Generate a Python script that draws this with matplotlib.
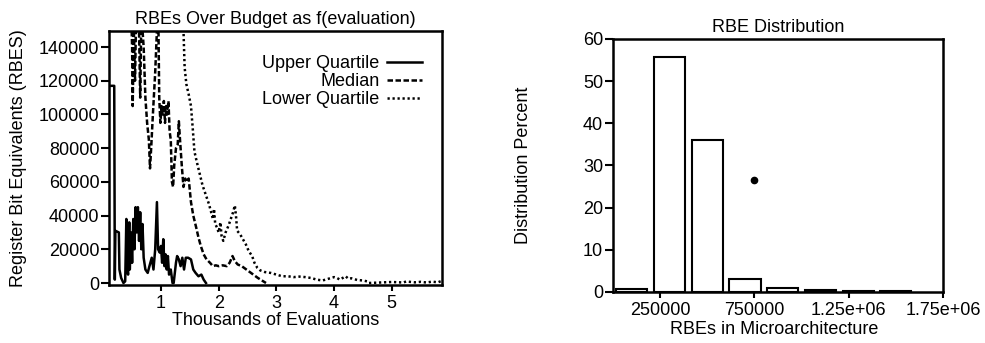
import matplotlib
matplotlib.use("Agg")
import matplotlib.pyplot as plt

plt.rcParams['font.family'] = ['Liberation Sans', 'DejaVu Sans']
plt.rcParams['font.size'] = 13

# ---------------- data: left panel (thousands of evaluations, RBEs) ----------------
upper_x = [0.14, 0.19, 0.20, 0.21, 0.27, 0.28, 0.31, 0.35, 0.38, 0.40, 0.41, 0.43, 0.45,
           0.46, 0.48, 0.50, 0.52, 0.54, 0.56, 0.58, 0.60, 0.62, 0.64, 0.66, 0.68, 0.70, 0.73,
           0.77, 0.80, 0.84, 0.87, 0.90, 0.93, 0.95, 0.98, 1.00, 1.02, 1.04, 1.06, 1.08, 1.10,
           1.12, 1.14, 1.17, 1.20, 1.22, 1.26, 1.28, 1.31, 1.34, 1.37, 1.40, 1.43, 1.47, 1.52,
           1.56, 1.60, 1.65, 1.70, 1.74, 1.78]
upper_y = [117000, 117000, 2000, 31000, 30000, 8000, 3000, 0, 1000, 38000, 10000, 5000, 36000,
           8000, 30000, 12000, 38000, 20000, 45000, 30000, 45000, 25000, 42000, 20000, 35000, 15000, 8000,
           6000, 10000, 15000, 8000, 20000, 48000, 20000, 18000, 22000, 12000, 26000, 10000, 17000, 8000,
           16000, 5000, 8000, 0, 0, 12000, 16000, 14000, 10000, 15000, 8000, 15000, 15000, 14000,
           8000, 6000, 4000, 5000, 2000, 0]

median_x = [0.45, 0.50, 0.51, 0.53, 0.55, 0.57, 0.62, 0.64, 0.66, 0.70, 0.73, 0.76, 0.79, 0.81,
            0.83, 0.86, 0.90, 0.93, 0.95, 0.97, 0.99, 1.01, 1.03, 1.05, 1.07, 1.09, 1.11, 1.13,
            1.15, 1.17, 1.19, 1.21, 1.23, 1.26, 1.29, 1.31, 1.33, 1.36, 1.39, 1.42, 1.45, 1.48,
            1.52, 1.56, 1.61, 1.65, 1.69, 1.74, 1.79, 1.85, 1.90, 1.95, 2.00, 2.07, 2.14, 2.19,
            2.24, 2.28, 2.33, 2.40, 2.50, 2.60, 2.68, 2.75, 2.82]
median_y = [200000, 140000, 105000, 150000, 120000, 160000, 150000, 110000, 160000, 140000, 110000, 95000, 85000, 68000,
            80000, 100000, 125000, 150000, 170000, 110000, 95000, 105000, 100000, 108000, 95000, 105000, 100000, 108000,
            90000, 85000, 60000, 57000, 70000, 80000, 82000, 96000, 85000, 70000, 57000, 62000, 60000, 62000,
            48000, 40000, 33000, 27000, 22000, 17000, 14000, 12000, 10000, 10500, 10000, 10500, 10000, 12000,
            16000, 13000, 11000, 10000, 7500, 5000, 3000, 1500, 0]

lower_x = [1.35, 1.39, 1.41, 1.44, 1.48, 1.52, 1.55, 1.58, 1.62, 1.67, 1.72, 1.78, 1.83, 1.87,
           1.90, 1.92, 1.94, 1.97, 2.00, 2.03, 2.05, 2.08, 2.12, 2.17, 2.21, 2.25, 2.28, 2.30,
           2.32, 2.37, 2.42, 2.47, 2.52, 2.58, 2.62, 2.67, 2.72, 2.80, 2.90, 3.00, 3.10, 3.20,
           3.30, 3.40, 3.50, 3.60, 3.70, 3.80, 3.90, 4.00, 4.05, 4.10, 4.15, 4.20, 4.25, 4.30,
           4.40, 4.50, 4.57, 4.60, 4.80, 5.00, 5.20, 5.25, 5.40, 5.50, 5.60, 5.70, 5.80, 5.86]
lower_y = [200000, 150000, 128000, 118000, 112000, 105000, 92000, 78000, 72000, 65000, 58000, 52000, 47000, 42000,
           38000, 44000, 35000, 33000, 30000, 36000, 28000, 25000, 30000, 34000, 38000, 42000, 46000, 40000,
           31000, 29000, 26000, 23000, 19000, 16000, 12000, 9000, 7500, 6500, 6000, 5000, 4000, 4000,
           3500, 3800, 3500, 3000, 2000, 1500, 2500, 3500, 3000, 2000, 3000, 4000, 2500, 2800,
           1800, 1500, 1000, 0, 300, 600, 300, 900, 400, 700, 300, 800, 400, 1200]

series_labels = ["Upper Quartile", "Median", "Lower Quartile"]

# ---------------- data: right panel (RBE distribution) ----------------
bin_centers = [100000, 300000, 500000, 700000, 900000, 1100000, 1300000, 1500000]
dist_percent = [0.8, 55.7, 36.0, 3.2, 0.9, 0.5, 0.2, 0.2]
stray_x = [750000]
stray_y = [26.5]
right_xticks = [250000, 750000, 1250000, 1750000]
right_xticklabels = ["250000", "750000", "1.25e+06", "1.75e+06"]

# ---------------- figure ----------------
fig = plt.figure(figsize=(9.85, 3.43), dpi=100)

ax1 = fig.add_axes([0.1107, 0.169, 0.338, 0.7405])
ax1.plot(upper_x, upper_y, color='black', lw=1.8, ls='-', label=series_labels[0])
ax1.plot(median_x, median_y, color='black', lw=1.8, ls=(0, (2.2, 1.0)), label=series_labels[1])
ax1.plot(lower_x, lower_y, color='black', lw=1.8, ls=(0, (0.9, 1.1)), label=series_labels[2])
ax1.set_xlim(0.1, 5.87)
ax1.set_ylim(-1200, 149500)
ax1.set_xticks([1, 2, 3, 4, 5])
ax1.set_yticks(range(0, 140001, 20000))
ax1.set_title("RBEs Over Budget as f(evaluation)", fontsize=13, pad=5)
ax1.set_xlabel("Thousands of Evaluations", fontsize=13)
ax1.xaxis.set_label_coords(0.5, -0.105)
ax1.set_ylabel("Register Bit Equivalents (RBES)", fontsize=13)
ax1.yaxis.set_label_coords(-0.245, 0.5)
leg = ax1.legend(loc='upper right', frameon=False, markerfirst=False, fontsize=13,
                 handlelength=1.95, handletextpad=0.4, labelspacing=0.05,
                 borderaxespad=0.0, borderpad=0.0, bbox_to_anchor=(0.94, 0.905))
for col in leg._legend_handle_box.get_children():
    col.align = 'right'

ax2 = fig.add_axes([0.6223, 0.1487, 0.335, 0.7376])
ax2.bar(bin_centers, dist_percent, width=165000, facecolor='white', edgecolor='black', lw=1.5)
ax2.plot(stray_x, stray_y, 'o', color='black', ms=4.5)
ax2.set_xlim(0, 1750000)
ax2.set_ylim(0, 60)
ax2.set_xticks(right_xticks)
ax2.set_xticklabels(right_xticklabels)
ax2.set_yticks(range(0, 61, 10))
ax2.set_title("RBE Distribution", fontsize=13, pad=5)
ax2.set_xlabel("RBEs in Microarchitecture", fontsize=13)
ax2.xaxis.set_label_coords(0.49, -0.115)
ax2.set_ylabel("Distribution Percent", fontsize=13)
ax2.yaxis.set_label_coords(-0.245, 0.5)

for ax in (ax1, ax2):
    for sp in ax.spines.values():
        sp.set_linewidth(1.8)
    ax.tick_params(axis='x', direction='out', length=4, width=1.5, labelsize=13, pad=3.5)
    ax.tick_params(axis='y', direction='out', length=6, width=1.5, labelsize=13, pad=1)

fig.savefig("out.png", dpi=100)
